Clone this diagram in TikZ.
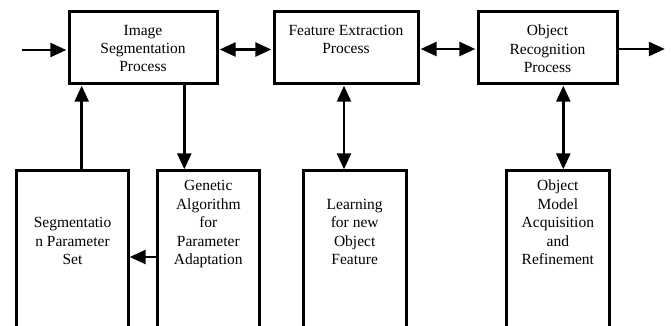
\documentclass[tikz,border=0pt]{standalone}
\usepackage{fontspec}
\setmainfont{Liberation Serif}
\usetikzlibrary{arrows.meta}
\tikzset{
  topbox/.style={draw, line width=3pt, rectangle, minimum height=72pt, inner sep=0pt},
  lowbox/.style={draw=none, rectangle, minimum height=160pt, inner sep=0pt},
  frame/.style={line width=3pt},
  toptext/.style={align=center, inner sep=0pt, anchor=north, font=\fontsize{15.5}{18.2}\selectfont},
  boxtext/.style={align=center, inner sep=0pt, anchor=south, font=\fontsize{15.5}{18.5}\selectfont},
  arr/.style={line width=2.6pt, -{Triangle[length=16pt,width=14pt]}, shorten >=1.2pt},
  darr/.style={line width=2.6pt, {Triangle[length=16pt,width=14pt]}-{Triangle[length=16pt,width=14pt]}, shorten >=1.2pt, shorten <=1.2pt}
}
\begin{document}
\begin{tikzpicture}[x=1pt,y=-1pt]
\useasboundingbox (0,0) rectangle (671,325);
% top boxes
\node[topbox, minimum width=148pt] (b1) at (143,47) {};
\node[topbox, minimum width=144pt] (b2) at (346,47) {};
\node[topbox, minimum width=139pt] (b3) at (547.5,47) {};
\node[toptext] (l1) at (143,25) {Image\\Segmentation\\Process};
\node[toptext] (l2) at (346,25) {Feature Extraction\\Process};
\node[toptext] (l3) at (547.5,25) {Object\\Recognition\\Process};
% lower boxes (open at the bottom edge of the picture)
\node[lowbox, minimum width=111.6pt] (b4) at (72.5,250.7) {};
\node[lowbox, minimum width=102pt] (b5) at (208.3,250.7) {};
\node[lowbox, minimum width=102.7pt] (b6) at (354.7,250.7) {};
\node[lowbox, minimum width=102.3pt] (b7) at (557.85,250.7) {};
\foreach \b in {b4,b5,b6,b7}{
  \draw[frame] (\b.south west) -- (\b.north west) -- (\b.north east) -- (\b.south east);
}
\node[boxtext] (t4) at (72.5,270.5) {Segmentatio\\n Parameter\\Set\strut};
\node[boxtext] (t5) at (208.3,270.5) {Genetic\\Algorithm\\for\\Parameter\\Adaptation\strut};
\node[boxtext] (t6) at (354.7,270.5) {Learning\\for new\\Object\\Feature\strut};
\node[boxtext] (t7) at (557.85,270.5) {Object\\Model\\Acquisition\\and\\Refinement\strut};
% input / output
\coordinate (in) at (22,50);
\coordinate (out) at (666,49);
\draw[arr] (in) -- (in -| b1.west);
\draw[arr] ([yshift=-2pt]b3.east) -- (out);
% horizontal links
\draw[darr] ([yshift=-2.5pt]b1.east) -- ([yshift=-2.5pt]b2.west);
\draw[darr] ([yshift=-2pt]b2.east) -- ([yshift=-2pt]b3.west);
% vertical links
\draw[arr] ([xshift=9.2pt]b4.north) -- ([xshift=9.2pt]b4.north |- b1.south);
\draw[arr] (b1.south -| 184.3,0) -- (b5.north -| 184.3,0);
\draw[darr] (b6.north -| 344,0) -- (b2.south -| 344,0);
\draw[darr] (b7.north -| 563.3,0) -- (b3.south -| 563.3,0);
\draw[arr] ([yshift=-6.3pt]b5.west) -- ([yshift=-6.3pt]b5.west -| b4.east);
\end{tikzpicture}
\end{document}
